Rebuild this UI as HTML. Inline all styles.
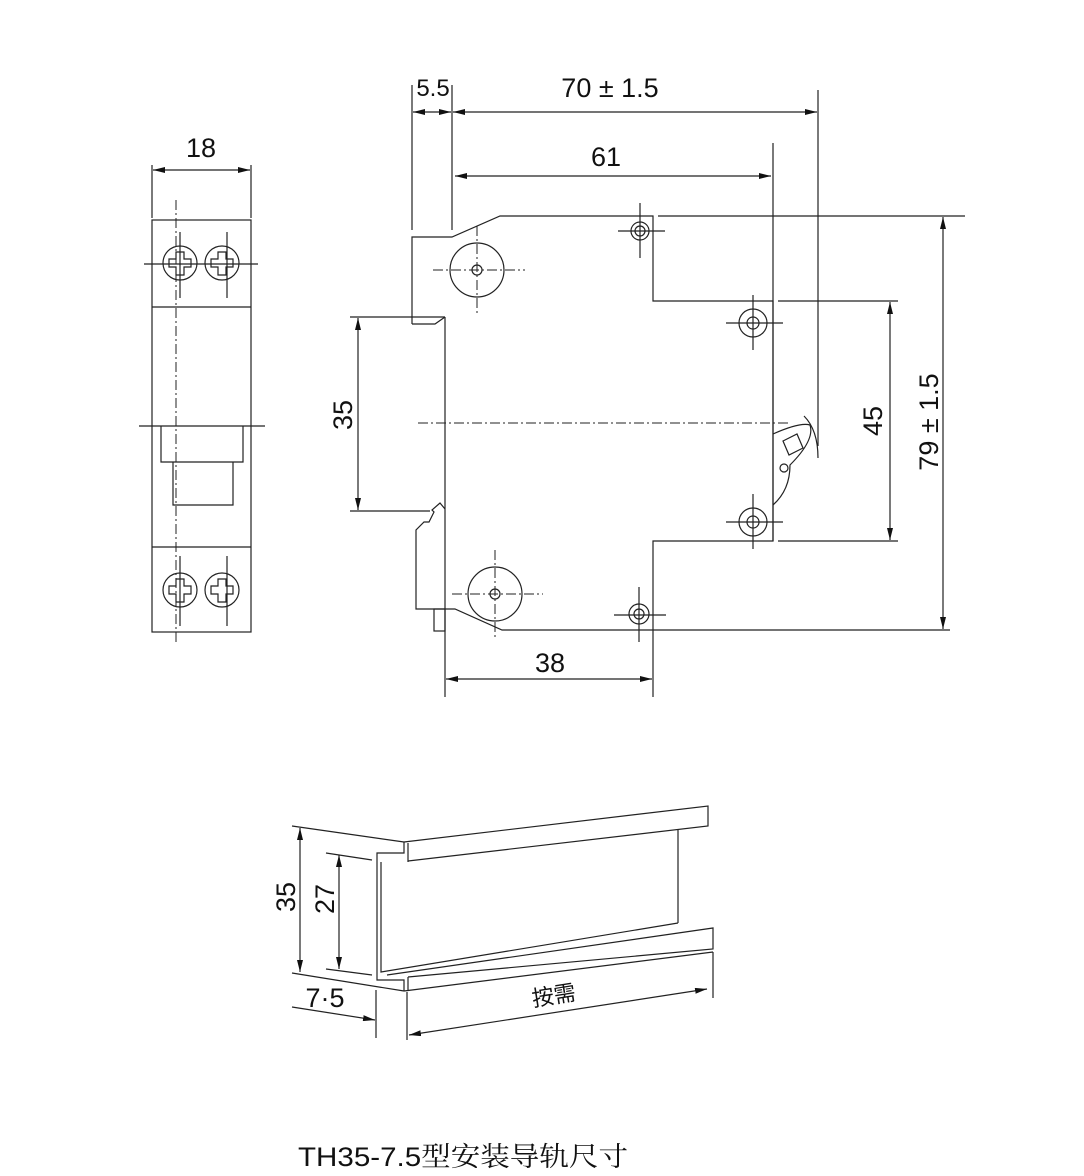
<!DOCTYPE html>
<html><head><meta charset="utf-8"><style>
html,body{margin:0;padding:0;background:#fff;}
svg{display:block;}
text{font-family:"Liberation Sans","Noto Sans CJK SC",sans-serif;fill:#111;}
</style></head><body>
<svg width="1084" height="1176" viewBox="0 0 1084 1176" xmlns="http://www.w3.org/2000/svg">
<defs>
<marker id="a" viewBox="0 0 12 6" refX="12" refY="3" markerWidth="12" markerHeight="6" orient="auto-start-reverse" markerUnits="userSpaceOnUse">
<path d="M0,0 L12,3 L0,6 z" fill="#111"/></marker>
</defs>
<g fill="none" stroke="#222" stroke-width="1.2">
<line x1="152" y1="165" x2="152" y2="218"/><line x1="251" y1="165" x2="251" y2="218"/>
<line x1="153" y1="170" x2="250" y2="170" marker-start="url(#a)" marker-end="url(#a)"/>
<rect x="152" y="220" width="99" height="412"/>
<line x1="152" y1="307" x2="251" y2="307"/><line x1="152" y1="547" x2="251" y2="547"/>
<line x1="139" y1="426" x2="265" y2="426"/>
<path d="M161,426 V462 H243 V426 M173,462 V505 H233 V462"/>
<line x1="176" y1="200" x2="176" y2="645" stroke-dasharray="10,3,2,3" stroke-width="1"/>
<g id="sc"><circle cx="180" cy="263" r="17"/><path d="M176,252 h8 v7 h7 v8 h-7 v8 h-8 v-8 h-7 v-8 h7 z"/></g>
<use href="#sc" x="42"/><use href="#sc" y="327"/><use href="#sc" x="42" y="327"/>
<line x1="144" y1="264" x2="258" y2="264"/>
<line x1="180" y1="232" x2="180" y2="298"/><line x1="227" y1="232" x2="227" y2="298"/>
<line x1="180" y1="556" x2="180" y2="626"/><line x1="227" y1="556" x2="227" y2="626"/>

<path d="M412,324 V237 H452 L500,216 H653 V301 H773 V541 H653 V630 H502 L455,609 H416 V530 L424,522 H429 L434,512 L432,510 L440,503 L445,509"/>
<path d="M412,324 H435 L445,317"/>
<line x1="445" y1="317" x2="445" y2="650"/>
<rect x="434" y="609" width="11" height="22"/>
<line x1="350" y1="317" x2="445" y2="317"/><line x1="350" y1="511" x2="430" y2="511"/>
<circle cx="477" cy="270" r="27"/><circle cx="477" cy="270" r="5"/>
<circle cx="495" cy="594" r="27"/><circle cx="495" cy="594" r="5"/>
<g stroke-dasharray="10,3,2,3" stroke-width="1">
<line x1="433" y1="270" x2="525" y2="270"/><line x1="477" y1="226" x2="477" y2="313"/>
<line x1="452" y1="594" x2="543" y2="594"/><line x1="495" y1="550" x2="495" y2="638"/>
<line x1="418" y1="423" x2="790" y2="423"/>
</g>
<circle cx="640" cy="231" r="9"/><circle cx="640" cy="231" r="5"/>
<line x1="618" y1="231" x2="665" y2="231"/><line x1="640" y1="203" x2="640" y2="258"/>
<circle cx="753" cy="323" r="14"/><circle cx="753" cy="323" r="6"/>
<line x1="726" y1="323" x2="783" y2="323"/><line x1="753" y1="295" x2="753" y2="350"/>
<circle cx="753" cy="522" r="14"/><circle cx="753" cy="522" r="6"/>
<line x1="726" y1="522" x2="783" y2="522"/><line x1="753" y1="494" x2="753" y2="549"/>
<circle cx="639" cy="614" r="10"/><circle cx="639" cy="614" r="5"/>
<line x1="614" y1="615" x2="666" y2="615"/><line x1="639" y1="587" x2="639" y2="642"/>
<line x1="653" y1="630" x2="653" y2="697"/>
<path d="M773,434 Q800,422 810,425 Q815,440 790,465 Q790,490 773,505"/>
<path d="M783,441 L797,434 L803,448 L789,455 z"/>
<circle cx="784" cy="468" r="4"/>
<path d="M804,416 Q818,430 818,458"/>
<line x1="658" y1="216" x2="965" y2="216"/>
<line x1="778" y1="301" x2="898" y2="301"/>
<line x1="778" y1="541" x2="898" y2="541"/>
<line x1="653" y1="630" x2="950" y2="630"/>
<line x1="773" y1="143" x2="773" y2="541"/>
<line x1="818" y1="90" x2="818" y2="446"/>
<line x1="412" y1="85" x2="412" y2="230"/><line x1="452" y1="85" x2="452" y2="230"/>
<line x1="445" y1="650" x2="445" y2="697"/>
<line x1="413" y1="112" x2="451" y2="112" marker-start="url(#a)" marker-end="url(#a)"/>
<line x1="453" y1="112" x2="817" y2="112" marker-start="url(#a)" marker-end="url(#a)"/>
<line x1="455" y1="176" x2="771" y2="176" marker-start="url(#a)" marker-end="url(#a)"/>
<line x1="358" y1="318" x2="358" y2="510" marker-start="url(#a)" marker-end="url(#a)"/>
<line x1="890" y1="302" x2="890" y2="540" marker-start="url(#a)" marker-end="url(#a)"/>
<line x1="943" y1="217" x2="943" y2="629" marker-start="url(#a)" marker-end="url(#a)"/>
<line x1="446" y1="679" x2="652" y2="679" marker-start="url(#a)" marker-end="url(#a)"/>

<path d="M404,842 L708,806 V826 L408,861"/>
<path d="M404,842 V853 H377 V980 H404 V991 M408,843 V862 M381,862 V972 L678,923 M678,830 V923"/>
<path d="M387,975 L713,928 V949 L408,977 M404,991 L713,952 M408,977 V991"/>
<line x1="292" y1="826" x2="404" y2="842"/><line x1="292" y1="973" x2="404" y2="991"/>
<line x1="326" y1="853" x2="372" y2="860"/><line x1="326" y1="969" x2="372" y2="975"/>
<line x1="300" y1="828" x2="300" y2="972" marker-start="url(#a)" marker-end="url(#a)"/>
<line x1="339" y1="855" x2="339" y2="969" marker-start="url(#a)" marker-end="url(#a)"/>
<line x1="292" y1="1007" x2="375" y2="1020" marker-end="url(#a)"/>
<line x1="376" y1="990" x2="376" y2="1038"/><line x1="407" y1="992" x2="407" y2="1040"/>
<line x1="713" y1="952" x2="713" y2="998"/>
<line x1="409" y1="1035" x2="707" y2="989" marker-start="url(#a)" marker-end="url(#a)"/>
</g>
<g font-size="27" text-anchor="middle">
<text x="201" y="157">18</text>
<text x="433" y="96" font-size="24">5.5</text>
<text x="610" y="97">70 ± 1.5</text>
<text x="606" y="166">61</text>
<text x="550" y="672">38</text>
<text transform="translate(352,415) rotate(-90)">35</text>
<text transform="translate(882,421) rotate(-90)">45</text>
<text transform="translate(938,422) rotate(-90)">79 ± 1.5</text>
<text transform="translate(295,897) rotate(-90)">35</text>
<text transform="translate(334,899) rotate(-90)">27</text>
<text x="325" y="1007">7·5</text>
<text transform="translate(555,1003) rotate(-9)" font-size="22">按需</text>
</g>
<text x="298" y="1166" font-size="27" textLength="330" lengthAdjust="spacingAndGlyphs" style="font-family:'Liberation Sans','Noto Serif CJK SC',serif">TH35-7.5型安装导轨尺寸</text>
</svg>
</body></html>
